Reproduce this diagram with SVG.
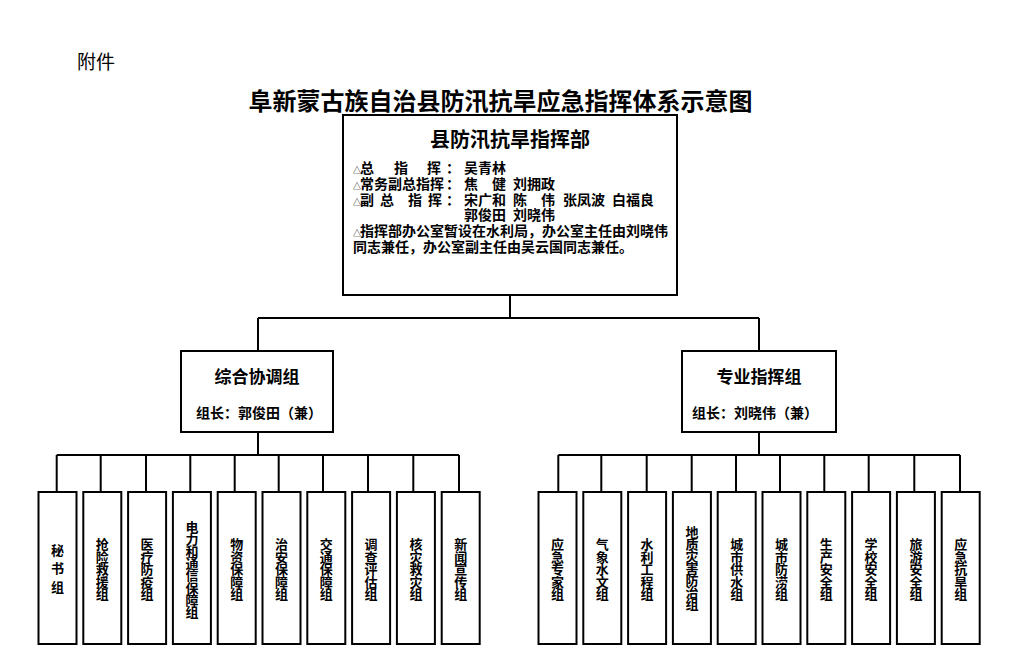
<svg xmlns="http://www.w3.org/2000/svg" width="1021" height="654" viewBox="0 0 1021 654">
<style>
text{font-family:"Noto Sans CJK SC","Noto Sans",sans-serif;fill:#000;font-weight:700}
.box{fill:#fff;stroke:#000;stroke-width:2}
.conn{fill:none;stroke:#000;stroke-width:2}
.v{font-size:13px;text-anchor:middle;writing-mode:vertical-rl;letter-spacing:-0.5px}
.t{font-size:14px;font-family:"Liberation Sans","Noto Sans CJK SC",sans-serif}
.tri{font-size:8px;font-weight:400}
</style>
<rect width="1021" height="654" fill="#fff"/>
<text x="77" y="69" style="font-size:19px;font-weight:400">附件</text>
<text x="500.5" y="110" style="font-size:24px;text-anchor:middle">阜新蒙古族自治县防汛抗旱应急指挥体系示意图</text>

<g id="connectors" class="conn">
<path d="M510 295V318M258 318H759M258 318V351M759 318V351"/>
<path d="M258 432V455M56.7 455H459"/>
<path d="M56.7 455V492M100.7 455V492M146 455V492M190.3 455V492M234.7 455V492M278.7 455V492M323 455V492M368 455V492M413.3 455V492M459 455V492"/>
<path d="M759 432V455M558.3 455H960"/>
<path d="M558.3 455V492M601.3 455V492M646.7 455V492M691.7 455V492M736 455V492M780 455V492M824.3 455V492M868.7 455V492M914.3 455V492M960 455V492"/>
</g>

<g id="hq">
<rect class="box" x="343" y="115" width="334" height="180"/>
<text x="510" y="147" style="font-size:20px;text-anchor:middle">县防汛抗旱指挥部</text>
<text class="t" y="173"><tspan class="tri" x="353">△</tspan><tspan x="360">总</tspan><tspan x="394">指</tspan><tspan x="427">挥</tspan><tspan x="446">：</tspan><tspan x="464">吴青林</tspan></text>
<text class="t" y="188.5"><tspan class="tri" x="353">△</tspan><tspan x="360">常务副总指挥</tspan><tspan x="446">：</tspan><tspan x="464">焦</tspan><tspan x="492">健</tspan><tspan x="513">刘拥政</tspan></text>
<text class="t" y="204.5"><tspan class="tri" x="353">△</tspan><tspan x="360">副</tspan><tspan x="380">总</tspan><tspan x="408">指</tspan><tspan x="428">挥</tspan><tspan x="446">：</tspan><tspan x="464">宋广和</tspan><tspan x="513">陈</tspan><tspan x="541">伟</tspan><tspan x="563">张凤波</tspan><tspan x="612">白福良</tspan></text>
<text class="t" y="220"><tspan x="464">郭俊田</tspan><tspan x="513">刘晓伟</tspan></text>
<text class="t" y="236"><tspan class="tri" x="353">△</tspan><tspan x="360">指挥部办公室暂设在水利局，办公室主任由刘晓伟</tspan></text>
<text class="t" x="353" y="252">同志兼任，办公室副主任由吴云国同志兼任。</text>
</g>

<g id="zonghe">
<rect class="box" x="181" y="351" width="152" height="81"/>
<text x="257" y="383" style="font-size:17px;text-anchor:middle">综合协调组</text>
<text x="259" y="418" style="font-size:14px;text-anchor:middle">组长：郭俊田（兼）</text>
</g>
<g id="zhuanye">
<rect class="box" x="682" y="351" width="154" height="81"/>
<text x="759" y="383" style="font-size:17px;text-anchor:middle">专业指挥组</text>
<text x="755" y="418" style="font-size:14px;text-anchor:middle">组长：刘晓伟（兼）</text>
</g>

<g id="l1"><rect class="box" x="38.5" y="492" width="38" height="152"/><text class="v" x="57.5" y="571" style="letter-spacing:5.5px">秘书组</text></g>
<g id="l2"><rect class="box" x="83.3" y="492" width="38" height="152"/><text class="v" x="102.3" y="569">抢险救援组</text></g>
<g id="l3"><rect class="box" x="128.1" y="492" width="38" height="152"/><text class="v" x="147.1" y="569">医疗防疫组</text></g>
<g id="l4"><rect class="box" x="172.9" y="492" width="38" height="152"/><text class="v" x="191.9" y="569" style="letter-spacing:-0.8px">电力和通信保障组</text></g>
<g id="l5"><rect class="box" x="217.7" y="492" width="38" height="152"/><text class="v" x="236.7" y="569">物资保障组</text></g>
<g id="l6"><rect class="box" x="262.5" y="492" width="38" height="152"/><text class="v" x="281.5" y="569">治安保障组</text></g>
<g id="l7"><rect class="box" x="307.3" y="492" width="38" height="152"/><text class="v" x="326.3" y="569">交通保障组</text></g>
<g id="l8"><rect class="box" x="352.1" y="492" width="38" height="152"/><text class="v" x="371.1" y="569">调查评估组</text></g>
<g id="l9"><rect class="box" x="396.9" y="492" width="38" height="152"/><text class="v" x="415.9" y="569">核灾救灾组</text></g>
<g id="l10"><rect class="box" x="441.7" y="492" width="38" height="152"/><text class="v" x="460.7" y="569">新闻宣传组</text></g>

<g id="r1"><rect class="box" x="538.5" y="492" width="38" height="152"/><text class="v" x="557.5" y="569">应急专家组</text></g>
<g id="r2"><rect class="box" x="583.3" y="492" width="38" height="152"/><text class="v" x="602.3" y="569">气象水文组</text></g>
<g id="r3"><rect class="box" x="628.1" y="492" width="38" height="152"/><text class="v" x="647.1" y="569">水利工程组</text></g>
<g id="r4"><rect class="box" x="672.9" y="492" width="38" height="152"/><text class="v" x="691.9" y="568" style="letter-spacing:-1px">地质灾害防治组</text></g>
<g id="r5"><rect class="box" x="717.7" y="492" width="38" height="152"/><text class="v" x="736.7" y="569">城市供水组</text></g>
<g id="r6"><rect class="box" x="762.5" y="492" width="38" height="152"/><text class="v" x="781.5" y="569">城市防涝组</text></g>
<g id="r7"><rect class="box" x="807.3" y="492" width="38" height="152"/><text class="v" x="826.3" y="569">生产安全组</text></g>
<g id="r8"><rect class="box" x="852.1" y="492" width="38" height="152"/><text class="v" x="871.1" y="569">学校安全组</text></g>
<g id="r9"><rect class="box" x="896.9" y="492" width="38" height="152"/><text class="v" x="915.9" y="569">旅游安全组</text></g>
<g id="r10"><rect class="box" x="941.7" y="492" width="38" height="152"/><text class="v" x="960.7" y="569">应急抗旱组</text></g>
</svg>
